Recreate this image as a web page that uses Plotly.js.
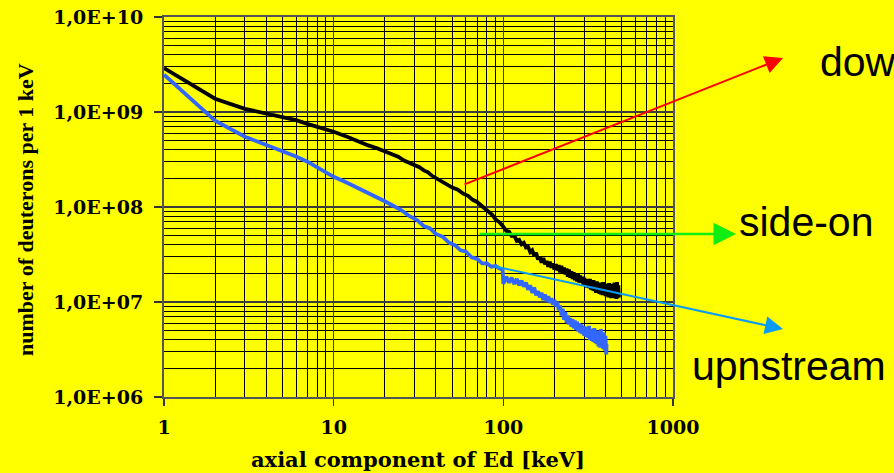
<!DOCTYPE html>
<html>
<head>
<meta charset="utf-8">
<script src="https://cdn.plot.ly/plotly-3.0.1.min.js"></script>
<style>html,body{margin:0;padding:0;background:#ffff00;}#chart{width:894px;height:473px;}</style>
</head>
<body>
<div id="chart"></div>
<script>
// Energy axis (keV) and spectra (number of deuterons per 1 keV)
var blackEnergy = [1,2,3,4,5,6,7,8,9,10,12,14,16,18,20,22,24,26,28,30,32,34,36,38,40,43,46,50,54,58,62,66,70,74,78,82,86,90,95,
  100,104,108,112,116,120,124,128,132,136,140,144,148,152,156,160,164,168,172,176,180,184,188,192,196,
  200,204,208,212,216,220,224,228,232,236,240,244,248,252,256,260,264,268,272,276,280,284,288,292,296,
  300,304,308,312,316,320,324,328,332,336,340,344,348,352,356,360,364,368,372,376,380,384,388,392,396,
  400,404,408,412,416,420,424,428,432,436,440,444,448,452,456,460,464,468,472,476,480];
var blackCounts = [2.9e9,1.38e9,1.08e9,9.7e8,8.9e8,8.2e8,7.5e8,7.0e8,6.6e8,6.2e8,5.5e8,4.85e8,4.45e8,4.15e8,3.85e8,3.55e8,3.38e8,3.08e8,2.92e8,2.72e8,2.62e8,2.43e8,2.32e8,2.13e8,2.02e8,1.86e8,1.77e8,1.6e8,1.52e8,1.38e8,1.31e8,1.19e8,1.13e8,1.04e8,9.8e7,8.9e7,8.3e7,7.4e7,6.9e7,
  6.2e7,5.6e7,5.5e7,4.95e7,5.0e7,4.4e7,4.5e7,4.05e7,4.2e7,3.75e7,3.8e7,3.35e7,3.5e7,3.05e7,3.3e7,2.8e7,3.0e7,2.6e7,2.9e7,2.5e7,2.7e7,2.35e7,2.65e7,2.3e7,2.55e7,
  2.2e7,2.5e7,2.15e7,2.45e7,2.05e7,2.4e7,2.0e7,2.3e7,1.95e7,2.25e7,1.85e7,2.2e7,1.8e7,2.1e7,1.75e7,2.05e7,1.7e7,1.95e7,1.65e7,2.0e7,1.6e7,1.9e7,1.6e7,1.85e7,1.5e7,
  1.8e7,1.5e7,1.75e7,1.42e7,1.7e7,1.4e7,1.75e7,1.35e7,1.65e7,1.33e7,1.7e7,1.3e7,1.6e7,1.25e7,1.65e7,1.28e7,1.55e7,1.22e7,1.6e7,1.2e7,1.55e7,1.18e7,1.62e7,1.2e7,1.5e7,
  1.15e7,1.55e7,1.18e7,1.48e7,1.12e7,1.58e7,1.15e7,1.45e7,1.1e7,1.55e7,1.12e7,1.5e7,1.1e7,1.6e7,1.12e7,1.45e7,1.08e7,1.62e7,1.1e7,1.5e7,1.12e7];

var blueEnergy = [1,2,3,4,5,6,7,8,9,10,12,14,16,18,20,22,25,28,31,34,37,40,44,48,52,56,60,65,70,75,80,85,90,95,99,
  100,104,108,112,116,120,124,128,132,136,140,144,148,152,156,160,164,168,172,176,180,184,188,192,196,
  200,204,208,212,216,220,224,228,232,236,240,244,248,252,256,260,264,268,272,276,280,284,288,292,296,
  300,304,308,312,316,320,324,328,332,336,340,344,348,352,356,360,364,368,372,376,380,384,388,392,396,
  400,404,406];
var blueCounts = [2.47e9,8.1e8,5.5e8,4.5e8,3.9e8,3.4e8,3.0e8,2.6e8,2.3e8,2.08e8,1.8e8,1.58e8,1.42e8,1.28e8,1.15e8,1.05e8,9.3e7,8.0e7,7.3e7,6.3e7,5.95e7,5.2e7,4.85e7,4.2e7,3.95e7,3.5e7,3.4e7,2.95e7,2.85e7,2.55e7,2.55e7,2.35e7,2.4e7,2.25e7,2.2e7,
  1.55e7,1.85e7,1.6e7,1.8e7,1.55e7,1.75e7,1.5e7,1.68e7,1.45e7,1.6e7,1.35e7,1.5e7,1.25e7,1.42e7,1.18e7,1.3e7,1.12e7,1.25e7,1.05e7,1.2e7,1.02e7,1.15e7,9.8e6,1.1e7,9.4e6,
  1.05e7,9.0e6,1.0e7,8.2e6,9.2e6,7.2e6,8.5e6,6.5e6,7.8e6,6.0e6,7.2e6,5.8e6,6.8e6,5.5e6,6.6e6,5.3e6,6.4e6,5.1e6,6.2e6,4.9e6,6.0e6,4.7e6,5.8e6,4.6e6,5.6e6,
  4.4e6,5.5e6,4.3e6,5.4e6,4.2e6,5.6e6,4.0e6,5.2e6,3.9e6,5.0e6,3.8e6,5.3e6,3.7e6,4.8e6,3.6e6,5.0e6,3.4e6,4.7e6,3.3e6,5.2e6,3.4e6,4.5e6,3.2e6,4.8e6,3.1e6,
  4.4e6,2.8e6,3.6e6];

var xTickVals = [1,10,100,1000];
var xTickText = ['1','10','100','1000'];
var yTickVals = [1e6,1e7,1e8,1e9,1e10];
var yTickText = ['1,0E+06','1,0E+07','1,0E+08','1,0E+09','1,0E+10'];
var labels = ['downstream','side-on','upnstream'];
var xTitle = 'axial component of Ed [keV]';
var yTitle = 'number of deuterons per 1 keV';

var L = 164, R = 221, T = 17, B = 76, W = 894, H = 473;
var pw = W - L - R, ph = H - T - B;
function px(x){ return (x - L) / pw; }
function py(y){ return (H - B - y) / ph; }

var traces = [
  {x: blueEnergy, y: blueCounts, type: 'scatter', mode: 'lines', line: {color: '#3366ff', width: 3.8}, hoverinfo: 'skip', showlegend: false},
  {x: blackEnergy, y: blackCounts, type: 'scatter', mode: 'lines', line: {color: '#000000', width: 3.8}, hoverinfo: 'skip', showlegend: false}
];

var tickFont = {family: 'DejaVu Serif, serif', size: 19, color: '#000', weight: 'bold'};
var labelFont = {family: 'Liberation Sans, Arial, sans-serif', size: 41, color: '#000'};

function arrow(tipX, tipY, tailX, tailY, color, w){
  return {xref: 'paper', yref: 'paper', x: px(tipX), y: py(tipY), ax: tailX - tipX, ay: tailY - tipY,
    axref: 'pixel', ayref: 'pixel', text: '', showarrow: true, arrowhead: 2, arrowsize: 1.8, arrowwidth: w,
    arrowcolor: color, standoff: 0, startstandoff: 0};
}

var layout = {
  width: W, height: H,
  margin: {l: L, r: R, t: T, b: B},
  paper_bgcolor: '#ffff00', plot_bgcolor: '#ffff00',
  showlegend: false,
  xaxis: {type: 'log', range: [0, 3], tickmode: 'array', tickvals: xTickVals, ticktext: xTickText,
    tickfont: tickFont, ticks: 'outside', ticklen: 7, tickcolor: '#333', tickwidth: 1.5, ticklabelstandoff: 5,
    showgrid: true, gridcolor: '#3c3c3c', gridwidth: 1.5,
    minor: {dtick: 'D1', showgrid: true, gridcolor: 'rgb(0,0,0)', gridwidth: 1, ticks: ''},
    showline: true, linecolor: '#555', linewidth: 2, mirror: true, zeroline: false, fixedrange: true},
  yaxis: {type: 'log', range: [6, 10], tickmode: 'array', tickvals: yTickVals, ticktext: yTickText,
    tickfont: tickFont, ticks: 'outside', ticklen: 8, tickcolor: '#333', tickwidth: 1.5, ticklabelstandoff: 7,
    showgrid: true, gridcolor: '#3c3c3c', gridwidth: 1.5,
    minor: {dtick: 'D1', showgrid: true, gridcolor: 'rgb(0,0,0)', gridwidth: 1, ticks: ''},
    showline: true, linecolor: '#555', linewidth: 2, mirror: true, zeroline: false, fixedrange: true},
  annotations: [
    {xref: 'paper', yref: 'paper', x: px(418), y: py(459), text: xTitle, showarrow: false,
      font: {family: 'DejaVu Serif, serif', size: 21, color: '#000', weight: 'bold'}, xanchor: 'center', yanchor: 'middle'},
    {xref: 'paper', yref: 'paper', x: px(25), y: py(210), text: yTitle, showarrow: false, textangle: -90,
      font: {family: 'Liberation Serif, Times New Roman, serif', size: 22, color: '#000', weight: 'bold'}, xanchor: 'center', yanchor: 'middle'},
    arrow(783, 58, 463, 185, '#ff0000', 2),
    arrow(736, 234, 478, 234, '#11ee11', 2.5),
    arrow(783, 329, 493, 266, '#0a9cf5', 2),
    {xref: 'paper', yref: 'paper', x: px(818), y: py(62), text: labels[0], showarrow: false, font: labelFont, xanchor: 'left', yanchor: 'middle'},
    {xref: 'paper', yref: 'paper', x: px(737), y: py(222), text: labels[1], showarrow: false, font: labelFont, xanchor: 'left', yanchor: 'middle'},
    {xref: 'paper', yref: 'paper', x: px(690), y: py(366), text: labels[2], showarrow: false, font: labelFont, xanchor: 'left', yanchor: 'middle'}
  ]
};

Plotly.newPlot('chart', traces, layout, {displayModeBar: false, staticPlot: true});
</script>
</body>
</html>
